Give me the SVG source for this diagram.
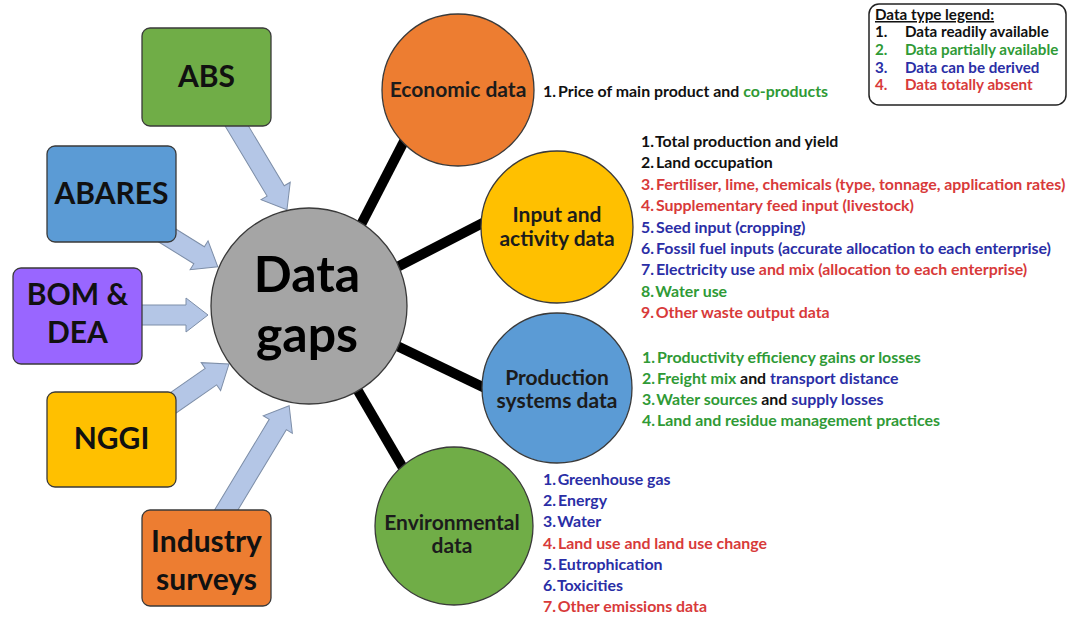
<svg xmlns="http://www.w3.org/2000/svg" width="1069" height="617" viewBox="0 0 1069 617">
  <style>
    text { font-family: Lato, "Open Sans", "DejaVu Sans", sans-serif; font-weight: 700; }
    .box { stroke: #3a3a3a; stroke-width: 1.3; }
    .circ { stroke: #3a3a3a; stroke-width: 1.3; }
    .spoke { stroke: #000; stroke-width: 10; stroke-linecap: butt; }
    .feed { fill: #b4c6e6; stroke: #7d8ea8; stroke-width: 1; }
    .boxlbl { font-size: 30px; fill: #111; text-anchor: middle; }
    .nodelbl { font-size: 21px; fill: #1c1c1c; text-anchor: middle; }
    .item { font-size: 15.9px; }
    .leg { font-size: 15.2px; }
    .k { fill: #111; }
    .g { fill: #2f9a36; }
    .b { fill: #2a2ea6; }
    .r { fill: #d83a3a; }
  </style>

  <!-- connectors: black spokes to the category circles and block arrows from the sources -->
  <g id="connectors">
    <line class="spoke" x1="350" y1="246" x2="415" y2="120"/>
    <line class="spoke" x1="370" y1="281" x2="510" y2="209"/>
    <line class="spoke" x1="370" y1="333" x2="510" y2="400"/>
    <line class="spoke" x1="340" y1="360" x2="420" y2="497"/>

    <polygon class="feed" transform="translate(232,118) rotate(59.1)" points="0,-10 85,-10 85,-17 107,0 85,17 85,10 0,10"/>
    <polygon class="feed" transform="translate(160,231) rotate(31.8)" points="0,-10 46,-10 46,-17 68,0 46,17 46,10 0,10"/>
    <polygon class="feed" transform="translate(135,315)" points="0,-10 51,-10 51,-17 73,0 51,17 51,10 0,10"/>
    <polygon class="feed" transform="translate(160,412) rotate(-34.8)" points="0,-10 62,-10 62,-17 84,0 62,17 62,10 0,10"/>
    <polygon class="feed" transform="translate(222,517) rotate(-58.9)" points="0,-10 108,-10 108,-17 130,0 108,17 108,10 0,10"/>
  </g>

  <!-- source boxes -->
  <g id="abs">
    <rect class="box" x="142" y="28" width="129" height="98" rx="8" fill="#70ad47"/>
    <text class="boxlbl" x="206.5" y="87">ABS</text>
  </g>
  <g id="abares">
    <rect class="box" x="47" y="146" width="129" height="96" rx="8" fill="#5b9bd5"/>
    <text class="boxlbl" x="111.5" y="204">ABARES</text>
  </g>
  <g id="bom-dea">
    <rect class="box" x="13" y="268" width="129" height="96" rx="8" fill="#9966ff"/>
    <text class="boxlbl" x="77.5" y="305">BOM &amp;</text>
    <text class="boxlbl" x="77.5" y="343">DEA</text>
  </g>
  <g id="nggi">
    <rect class="box" x="47" y="392" width="129" height="95" rx="8" fill="#ffc000"/>
    <text class="boxlbl" x="111.5" y="449">NGGI</text>
  </g>
  <g id="industry-surveys">
    <rect class="box" x="142" y="510" width="129" height="96" rx="8" fill="#ed7d31"/>
    <text class="boxlbl" x="206.5" y="552">Industry</text>
    <text class="boxlbl" x="206.5" y="590">surveys</text>
  </g>

  <!-- hub -->
  <g id="data-gaps">
    <circle class="circ" cx="309" cy="306" r="98" fill="#a5a5a5"/>
    <text x="307" y="292" font-size="50" fill="#000" text-anchor="middle">Data</text>
    <text x="307" y="352" font-size="50" fill="#000" text-anchor="middle">gaps</text>
  </g>

  <!-- category circles and their item lists -->
  <g id="economic-data">
    <circle class="circ" cx="458" cy="90" r="76" fill="#ed7d31"/>
    <text class="nodelbl" x="458" y="97">Economic data</text>
    <text class="item" x="543" y="97"><tspan class="k">1.</tspan><tspan class="k" dx="2">Price of main product and </tspan><tspan class="g">co-products</tspan></text>
  </g>

  <g id="input-activity-data">
    <circle class="circ" cx="557" cy="227" r="76" fill="#ffc000"/>
    <text class="nodelbl" x="557" y="222">Input and</text>
    <text class="nodelbl" x="557" y="246">activity data</text>
    <text class="item k" x="641" y="147">1.<tspan dx="2">Total production and yield</tspan></text>
    <text class="item k" x="641" y="168">2.<tspan dx="2">Land occupation</tspan></text>
    <text class="item r" x="641" y="190">3.<tspan dx="2">Fertiliser, lime, chemicals (type, tonnage, application rates)</tspan></text>
    <text class="item r" x="641" y="211">4.<tspan dx="2">Supplementary feed input (livestock)</tspan></text>
    <text class="item b" x="641" y="233">5.<tspan dx="2">Seed input (cropping)</tspan></text>
    <text class="item b" x="641" y="254">6.<tspan dx="2">Fossil fuel inputs (accurate allocation to each enterprise)</tspan></text>
    <text class="item" x="641" y="275"><tspan class="b">7.</tspan><tspan class="b" dx="2">Electricity use </tspan><tspan class="r">and mix (allocation to each enterprise)</tspan></text>
    <text class="item g" x="641" y="297">8.<tspan dx="2">Water use</tspan></text>
    <text class="item r" x="641" y="318">9.<tspan dx="2">Other waste output data</tspan></text>
  </g>

  <g id="production-systems-data">
    <circle class="circ" cx="557" cy="388" r="75" fill="#5b9bd5"/>
    <text class="nodelbl" x="557" y="385">Production</text>
    <text class="nodelbl" x="557" y="408">systems data</text>
    <text class="item g" x="642" y="363">1.<tspan dx="2">Productivity efficiency gains or losses</tspan></text>
    <text class="item" x="642" y="384"><tspan class="g">2.</tspan><tspan class="g" dx="2">Freight mix</tspan><tspan class="k"> and </tspan><tspan class="b">transport distance</tspan></text>
    <text class="item" x="642" y="405"><tspan class="g">3.</tspan><tspan class="g" dx="2">Water sources</tspan><tspan class="k"> and </tspan><tspan class="b">supply losses</tspan></text>
    <text class="item g" x="642" y="426">4.<tspan dx="2">Land and residue management practices</tspan></text>
  </g>

  <g id="environmental-data">
    <circle class="circ" cx="454" cy="526" r="79" fill="#70ad47"/>
    <text class="nodelbl" x="452" y="530">Environmental</text>
    <text class="nodelbl" x="452" y="553">data</text>
    <text class="item b" x="543" y="485">1.<tspan dx="2">Greenhouse gas</tspan></text>
    <text class="item b" x="543" y="506">2.<tspan dx="2">Energy</tspan></text>
    <text class="item b" x="543" y="527">3.<tspan dx="2">Water</tspan></text>
    <text class="item r" x="543" y="549">4.<tspan dx="2">Land use and land use change</tspan></text>
    <text class="item b" x="543" y="570">5.<tspan dx="2">Eutrophication</tspan></text>
    <text class="item b" x="543" y="591">6.<tspan dx="2">Toxicities</tspan></text>
    <text class="item r" x="543" y="612">7.<tspan dx="2">Other emissions data</tspan></text>
  </g>

  <!-- legend -->
  <g id="legend">
    <rect x="869" y="4" width="197" height="101" rx="10" fill="#fff" stroke="#222" stroke-width="1.5"/>
    <text class="leg k" x="875" y="20" text-decoration="underline">Data type legend:</text>
    <text class="leg k" x="875" y="37">1.</text><text class="leg k" x="905" y="37">Data readily available</text>
    <text class="leg g" x="875" y="55">2.</text><text class="leg g" x="905" y="55">Data partially available</text>
    <text class="leg b" x="875" y="73">3.</text><text class="leg b" x="905" y="73">Data can be derived</text>
    <text class="leg r" x="875" y="90">4.</text><text class="leg r" x="905" y="90">Data totally absent</text>
  </g>
</svg>
